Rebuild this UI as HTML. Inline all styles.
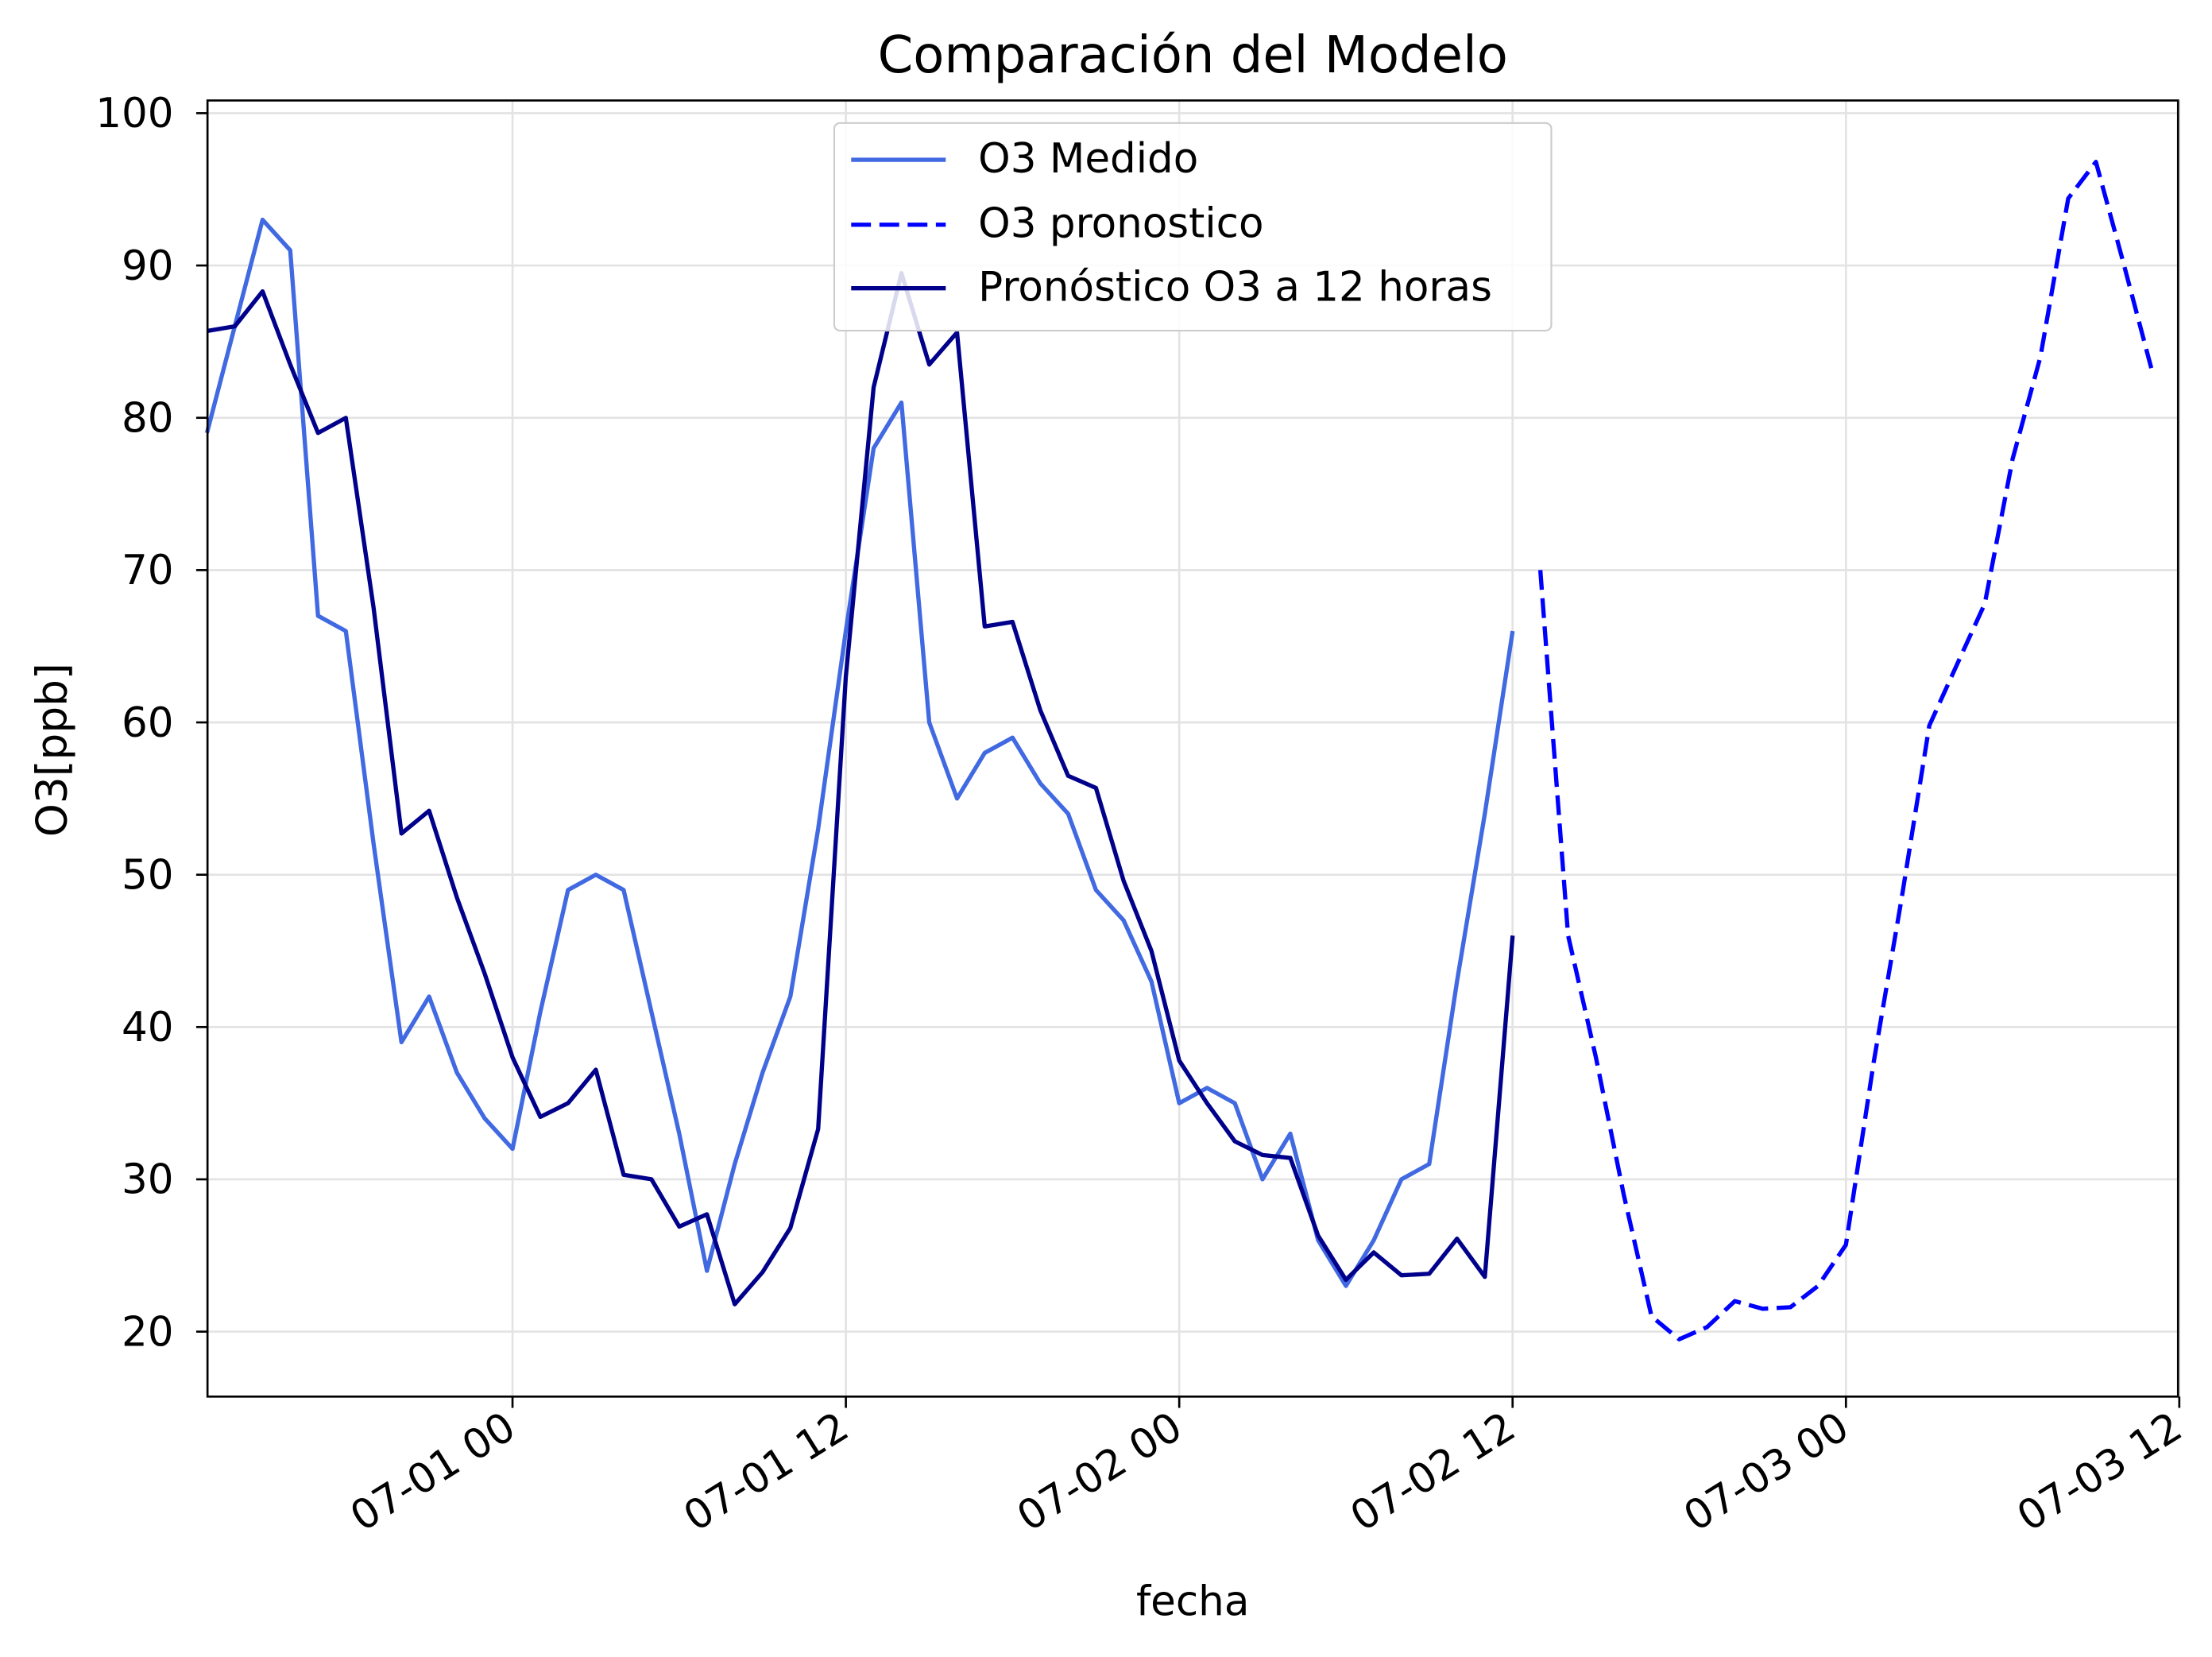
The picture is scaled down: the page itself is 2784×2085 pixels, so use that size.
<!DOCTYPE html>
<html><head><meta charset="utf-8"><style>
html,body{margin:0;padding:0;background:#fff;}
svg{display:block;font-family:"DejaVu Sans","Liberation Sans",sans-serif;}
</style></head><body>
<svg id="chart" width="2784" height="2085" viewBox="0 0 1560 1168" xmlns="http://www.w3.org/2000/svg">
<rect width="1560" height="1168" fill="#fff"/>
<g transform="scale(0.9955)">
<text x="845" y="51" text-anchor="middle" font-size="36">Comparación del Modelo</text>
<text x="845" y="1144" text-anchor="middle" font-size="29">fecha</text>
<text transform="translate(47,531) rotate(-90)" text-anchor="middle" font-size="30">O3[ppb]</text>
<g id="grid"></g>
<g id="series"></g>
<rect x="147" y="71" width="1396" height="918" fill="none" stroke="#000" stroke-width="1.5"/>
<g id="axes"></g>
<g>
<rect x="591" y="87" width="508" height="147" rx="4" fill="#fff" fill-opacity="0.85" stroke="#ccc" stroke-width="1.2"/>
<g><line x1="603" y1="113" x2="670" y2="113" stroke="#4169e1" stroke-width="3"/><text x="693" y="122" font-size="29">O3 Medido</text></g>
<g><line x1="603" y1="159" x2="670" y2="159" stroke="#0000ff" stroke-width="3" stroke-dasharray="14,6"/><text x="693" y="168" font-size="29">O3 pronostico</text></g>
<g><line x1="603" y1="204" x2="670" y2="204" stroke="#00008b" stroke-width="3"/><text x="693" y="213" font-size="29">Pronóstico O3 a 12 horas</text></g>
</g>
</g>
</svg>
<script>
const medido=[79,86,93,91,67,66,52,39,42,37,34,32,41,49,50,49,41,33,24,31,37,42,53,66,78,81,60,55,58,59,56,54,49,47,43,35,36,35,30,33,26,23,26,30,31,43,54,66];
const pron12=[85.7,86,88.3,83.5,79,80,67.5,52.7,54.2,48.5,43.5,38,34.1,35,37.2,30.3,30,26.9,27.7,21.8,23.9,26.8,33.3,63,82,89.5,83.5,85.6,66.3,66.6,60.8,56.5,55.7,49.6,45,37.8,35,32.5,31.6,31.4,26.3,23.4,25.2,23.7,23.8,26.1,23.6,46];
const pronStart=48;
const pronostico=[70,46,38,29,21,19.5,20.3,22,21.5,21.6,23,25.7,37.7,48.4,59.8,63.8,67.8,77.3,84,94.4,96.8,90.1,83.2];
const yTicks=[20,30,40,50,60,70,80,90,100];
const xTickHours=[11,23,35,47,59,71];
const xTickLabels=["07-01 00","07-01 12","07-02 00","07-02 12","07-03 00","07-03 12"];
const NS="http://www.w3.org/2000/svg";
const X=h=>146.6+h*19.68;
const Y=v=>943-(v-20)*10.7875;
function el(t,a,p){const e=document.createElementNS(NS,t);for(const k in a)e.setAttribute(k,a[k]);p.appendChild(e);return e;}
const grid=document.getElementById('grid'),axes=document.getElementById('axes'),ser=document.getElementById('series');
yTicks.forEach(v=>{
 const g=el('line',{x1:147,x2:1543,y1:Y(v),y2:Y(v),stroke:'#e3e3e3','stroke-width':1.5},grid);
 
 
 el('line',{x1:139,x2:147,y1:Y(v),y2:Y(v),stroke:'#000','stroke-width':1.5},axes);
 const t=el('text',{x:123,y:Y(v)+10,'text-anchor':'end','font-size':29},axes);
 t.textContent=v;
 
 
});
xTickHours.forEach((h,i)=>{
 const g=el('line',{x1:X(h),x2:X(h),y1:71,y2:989,stroke:'#e3e3e3','stroke-width':1.5},grid);
 
 
 el('line',{x1:X(h),x2:X(h),y1:989,y2:997,stroke:'#000','stroke-width':1.5},axes);
 const t=el('text',{x:0,y:0,'text-anchor':'end','font-size':29,transform:`translate(${X(h)+4},1016) rotate(-32)`},axes);
 t.textContent=xTickLabels[i];
 
 
});
function line(vals,start,color,dash,name){
 const d=vals.map((v,i)=>(i?'L':'M')+X(start+i).toFixed(1)+','+Y(v).toFixed(1)).join('');
 const p=el('path',{d:d,fill:'none',stroke:color,'stroke-width':3,'stroke-linejoin':'round'},ser);
 if(dash)p.setAttribute('stroke-dasharray',dash);
 
 
}
line(medido,0,'#4169e1',null,'line-o3-medido');
line(pron12,0,'#00008b',null,'line-pronostico-12h');
line(pronostico,pronStart,'#0000ff','14,6','line-o3-pronostico');
</script>
</body></html>
